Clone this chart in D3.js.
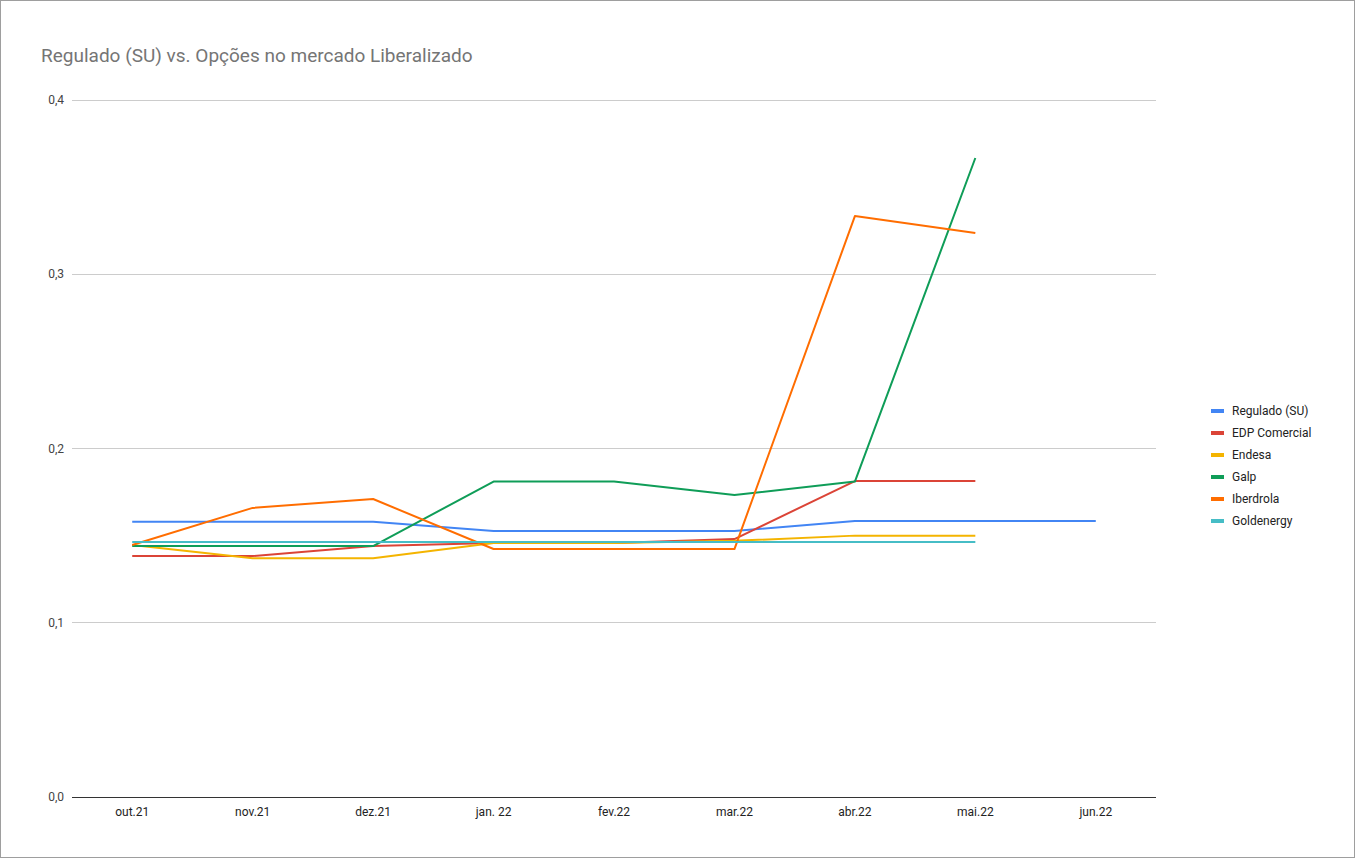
<!DOCTYPE html>
<html lang="pt">
<head>
<meta charset="UTF-8">
<title>Regulado (SU) vs. Opções no mercado Liberalizado</title>
<script src="https://d3js.org/d3.v7.min.js"></script>
<style>
  body { margin: 0; background: #fff; font-family: Roboto, Arial, sans-serif; }
</style>
</head>
<body>
<svg id="chart" width="1357" height="862"></svg>
<script>
const months = ["out.21", "nov.21", "dez.21", "jan. 22", "fev.22", "mar.22", "abr.22", "mai.22", "jun.22"];
const yTicks = [0, 0.1, 0.2, 0.3, 0.4];

const regulado   = [0.158, 0.158, 0.158, 0.1527, 0.1527, 0.1527, 0.1584, 0.1584, 0.1584];
const edp        = [0.1383, 0.1383, 0.144, 0.1458, 0.1458, 0.148, 0.1813, 0.1813];
const endesa     = [0.1446, 0.137, 0.137, 0.1458, 0.1458, 0.147, 0.150, 0.150];
const galp       = [0.144, 0.144, 0.144, 0.181, 0.181, 0.1733, 0.181, 0.3667];
const iberdrola  = [0.1446, 0.1659, 0.171, 0.1423, 0.1423, 0.1423, 0.3334, 0.3237];
const goldenergy = [0.1463, 0.1463, 0.1463, 0.1463, 0.1463, 0.1463, 0.1463, 0.1463];

const series = [
  { name: "Regulado (SU)", values: regulado,   color: "#4285f4" },
  { name: "EDP Comercial", values: edp,        color: "#db4437" },
  { name: "Endesa",        values: endesa,     color: "#f4b400" },
  { name: "Galp",          values: galp,       color: "#0f9d58" },
  { name: "Iberdrola",     values: iberdrola,  color: "#ff6d00" },
  { name: "Goldenergy",    values: goldenergy, color: "#46bdc6" }
];

const svg = d3.select("#chart");
svg.append("rect").attr("x", 0.5).attr("y", 0.5).attr("width", 1354).attr("height", 857)
  .attr("fill", "#fff").attr("stroke", "#9e9e9e");

svg.append("text").attr("x", 41).attr("y", 62).text("Regulado (SU) vs. Opções no mercado Liberalizado")
  .attr("fill", "#757575").attr("font-size", 19);

const x = d3.scaleBand().domain(months).range([72, 1156]).padding(0);
const y = d3.scaleLinear().domain([0, 0.4]).range([797, 100]);
const fmt = d => d3.format(".1f")(d).replace(".", ",");

const grid = svg.append("g");
yTicks.forEach(t => {
  grid.append("line").attr("x1", 72).attr("x2", 1156).attr("y1", y(t)).attr("y2", y(t))
    .attr("stroke", t === 0 ? "#333" : "#ccc").attr("stroke-width", 1).attr("shape-rendering", "crispEdges");
  grid.append("text").attr("x", 64).attr("y", y(t) + 4).attr("text-anchor", "end")
    .attr("font-size", 12).attr("fill", "#444").text(fmt(t));
});

const xAxis = svg.append("g").attr("transform", "translate(0,797)")
  .call(d3.axisBottom(x).tickSize(0).tickPadding(10));
xAxis.select(".domain").remove();
xAxis.selectAll("text").attr("font-size", 12).attr("fill", "#222").attr("font-family", "Roboto, Arial, sans-serif");

const line = d3.line().x((d, i) => x(months[i]) + x.bandwidth() / 2).y(d => y(d));
series.forEach(s => {
  svg.append("path").datum(s.values).attr("d", line).attr("fill", "none")
    .attr("stroke", s.color).attr("stroke-width", 2).attr("stroke-linejoin", "round");
});

const legend = svg.append("g");
series.forEach((s, i) => {
  const g = legend.append("g").attr("transform", `translate(1211,${411 + i * 22})`);
  g.append("line").attr("x1", 0).attr("x2", 13).attr("y1", 0).attr("y2", 0)
    .attr("stroke", s.color).attr("stroke-width", 4);
  g.append("text").attr("x", 21).attr("y", 4).attr("font-size", 12).attr("fill", "#222").text(s.name);
});
</script>
</body>
</html>
